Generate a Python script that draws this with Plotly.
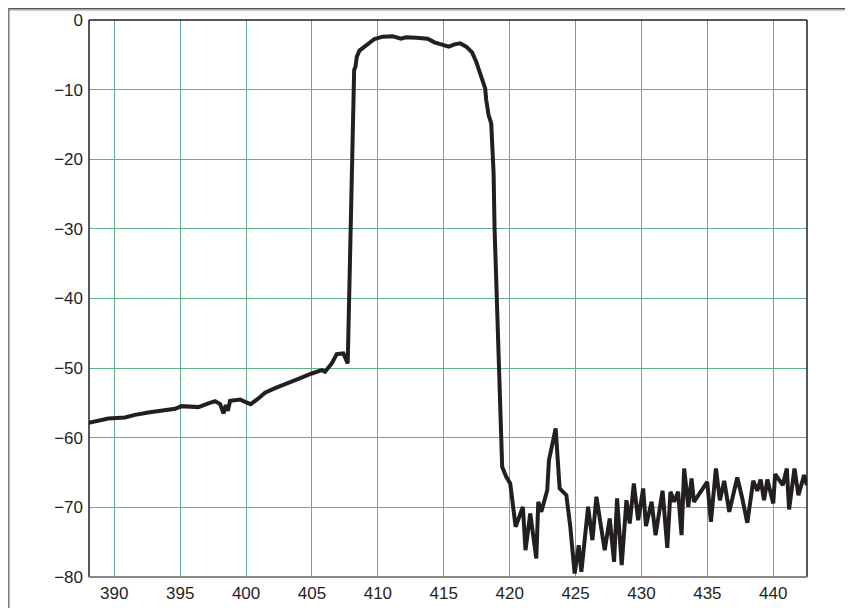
import plotly.graph_objects as go

# Wavelength (nm) and attenuation (dB)
wavelength = [
    388.03, 388.78, 389.54, 390.81, 391.57, 392.58, 393.85, 394.61, 395.11, 396.38,
    397.14, 397.65, 398.03, 398.28, 398.46, 398.61, 398.79, 399.55, 399.92, 400.35,
    400.93, 401.44, 402.2, 402.96, 403.97, 404.98, 405.74, 405.99, 406.5, 406.88,
    407.38, 407.71, 408.02, 408.2, 408.3, 408.4, 408.6, 409.1, 409.74, 410.37,
    411.13, 411.76, 412.14, 412.9, 413.78, 414.29, 414.8, 415.38, 415.81, 416.24,
    416.7, 417.15, 417.46, 417.71, 417.96, 418.14, 418.22, 418.4, 418.6, 418.68,
    418.78, 418.85, 419.1, 419.28, 419.43, 419.74, 420.04, 420.14, 420.45, 421.0,
    421.2, 421.56, 422.02, 422.17, 422.4, 422.85, 422.98, 423.49, 423.79, 424.3,
    424.6, 424.93, 425.24, 425.44, 425.95, 426.28, 426.58, 427.21, 427.59, 427.92,
    428.15, 428.5, 428.86, 429.11, 429.42, 429.75, 430.13, 430.34, 430.77, 431.07,
    431.6, 431.96, 432.2, 432.48, 432.78, 433.04, 433.24, 433.55, 433.8, 433.98,
    434.99, 435.27, 435.65, 435.95, 436.28, 436.66, 437.27, 437.65, 438.03, 438.48,
    438.79, 439.04, 439.3, 439.55, 440.0, 440.14, 440.72, 441.03, 441.2, 441.61,
    441.91, 442.34, 442.55,
]
attenuation = [
    -57.86, -57.57, -57.23, -57.09, -56.71, -56.37, -55.99, -55.84, -55.46, -55.6,
    -55.08, -54.74, -55.17, -56.51, -55.32, -56.13, -54.69, -54.5, -54.84, -55.17,
    -54.35, -53.54, -52.87, -52.34, -51.53, -50.77, -50.29, -50.53, -49.33, -47.99,
    -47.89, -49.33, -25.86, -7.18, -6.7, -5.27, -4.4, -3.59, -2.73, -2.39,
    -2.35, -2.68, -2.49, -2.54, -2.68, -3.21, -3.5, -3.83, -3.5, -3.35,
    -3.83, -4.65, -5.98, -7.42, -8.62, -9.82, -11.49, -13.65, -14.85, -17.24,
    -22.03, -29.7, -44.06, -53.64, -64.18, -65.6, -66.57, -68.0, -72.8, -69.92,
    -76.15, -70.88, -77.35, -69.2, -70.64, -67.53, -63.22, -58.66, -67.28, -68.25,
    -72.8, -79.5, -75.43, -79.26, -69.92, -74.71, -68.48, -76.15, -71.6, -77.82,
    -68.72, -78.3, -68.97, -72.32, -66.57, -71.84, -67.29, -72.7, -69.2, -73.99,
    -67.61, -75.82, -67.76, -69.2, -67.76, -73.99, -64.42, -69.92, -65.85, -69.2,
    -66.33, -72.08, -64.42, -68.97, -66.19, -70.64, -65.71, -68.73, -72.22, -66.19,
    -67.63, -65.99, -68.97, -65.99, -69.44, -65.23, -66.81, -64.42, -70.3, -64.42,
    -68.25, -65.37, -66.81,
]

x_ticks = [390, 395, 400, 405, 410, 415, 420, 425, 430, 435, 440]
y_ticks = [0, -10, -20, -30, -40, -50, -60, -70, -80]

grid_color = "rgb(100,176,132)"
font = dict(family="Liberation Sans, Arial, sans-serif", size=17, color="#231f20")

fig = go.Figure()
fig.add_trace(go.Scatter(
    x=wavelength, y=attenuation, mode="lines",
    line=dict(color="#231f20", width=4),
    showlegend=False, hoverinfo="skip",
))

L, T, R, B = 81, 12, 46, 31
W, H = 845, 600
pw, ph = W - L - R, H - T - B

fig.update_layout(
    width=W, height=H,
    margin=dict(l=L, r=R, t=T, b=B, autoexpand=False),
    paper_bgcolor="white", plot_bgcolor="white",
    font=font,
    xaxis=dict(
        range=[388.08, 442.56], tickvals=x_ticks,
        showgrid=True, gridcolor=grid_color, gridwidth=1.3,
        zeroline=False, showline=False, ticks="",
        tickfont=font, ticklabelstandoff=4, automargin=False,
    ),
    yaxis=dict(
        range=[-80, 0], tickvals=y_ticks,
        showgrid=True, gridcolor=grid_color, gridwidth=1.3,
        zeroline=False, showline=False, ticks="",
        tickfont=font, ticklabelstandoff=5, automargin=False,
    ),
    shapes=[
        # plot frame: top, left, right dark; bottom grey
        dict(type="line", xref="paper", yref="paper", x0=0, x1=1, y0=1, y1=1,
             line=dict(color="#231f20", width=1.5)),
        dict(type="line", xref="paper", yref="paper", x0=0, x1=0, y0=0, y1=1,
             line=dict(color="#231f20", width=1.5)),
        dict(type="line", xref="paper", yref="paper", x0=1, x1=1, y0=0, y1=1,
             line=dict(color="#231f20", width=1.5)),
        dict(type="line", xref="paper", yref="paper", x0=0, x1=1, y0=0, y1=0,
             line=dict(color="#888888", width=2)),
        # outer figure frame (top and left edges of the figure)
        dict(type="line", xref="paper", yref="paper",
             x0=-L / pw, x1=1 + R / pw, y0=1 + (T - 0.8) / ph, y1=1 + (T - 0.8) / ph,
             line=dict(color="#555555", width=1.5)),
        dict(type="line", xref="paper", yref="paper",
             x0=-L / pw, x1=1 + R / pw, y0=1 + (T - 2.5) / ph, y1=1 + (T - 2.5) / ph,
             line=dict(color="#cccccc", width=1)),
        dict(type="line", xref="paper", yref="paper",
             x0=-(L - 0.8) / pw, x1=-(L - 0.8) / pw, y0=-B / ph, y1=1 + T / ph,
             line=dict(color="#777777", width=1.5)),
    ],
)

fig.write_html("out.html")
